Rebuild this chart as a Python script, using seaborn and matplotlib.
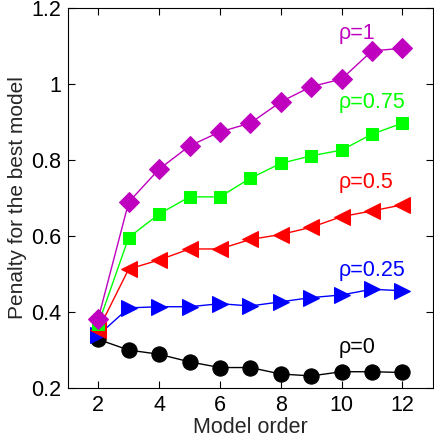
import matplotlib
matplotlib.use("Agg")
import matplotlib.pyplot as plt
import seaborn as sns
import pandas as pd

model_order = [2, 3, 4, 5, 6, 7, 8, 9, 10, 11, 12]
rho_0 = [0.328, 0.300, 0.289, 0.269, 0.254, 0.254, 0.237, 0.232, 0.243, 0.243, 0.241]
rho_025 = [0.339, 0.411, 0.414, 0.414, 0.422, 0.416, 0.427, 0.438, 0.445, 0.460, 0.456]
rho_05 = [0.353, 0.513, 0.537, 0.566, 0.566, 0.591, 0.604, 0.623, 0.651, 0.666, 0.682]
rho_075 = [0.368, 0.596, 0.658, 0.703, 0.703, 0.752, 0.791, 0.811, 0.826, 0.868, 0.897]
rho_1 = [0.383, 0.689, 0.776, 0.837, 0.874, 0.897, 0.953, 0.993, 1.013, 1.087, 1.094]

labels = ["ρ=0", "ρ=0.25", "ρ=0.5", "ρ=0.75", "ρ=1"]
label_y = [0.308, 0.51, 0.74, 0.95, 1.134]
xticks = [2, 4, 6, 8, 10, 12]
yticks = [0.2, 0.4, 0.6, 0.8, 1.0, 1.2]
ytick_labels = ["0.2", "0.4", "0.6", "0.8", "1", "1.2"]

series = [rho_0, rho_025, rho_05, rho_075, rho_1]
colors = ["#000000", "#0000FF", "#FF0000", "#00FF00", "#BF00BF"]
markers = ["o", ">", "<", "s", "D"]
msizes = [11, 11, 11, 9, 10]

sns.set_theme(style="white")
plt.rcParams["font.family"] = ["Liberation Sans", "DejaVu Sans"]

fig = plt.figure(figsize=(4.35, 4.42), dpi=100)
ax = fig.add_axes([0.156, 0.122, 0.839, 0.860])

for lab, vals, c, m, ms in zip(labels, series, colors, markers, msizes):
    df = pd.DataFrame({"x": model_order, "y": vals})
    sns.lineplot(data=df, x="x", y="y", ax=ax, color=c, marker=m,
                 markersize=ms, markeredgecolor=c, linewidth=1.0)

for lab, yy, c in zip(labels, label_y, colors):
    ax.text(9.9, yy, lab, color=c, fontsize=15.5, ha="left", va="center")

ax.set_xlim(1, 13)
ax.set_ylim(0.2, 1.2)
ax.set_xticks(xticks)
ax.set_xticklabels([str(t) for t in xticks])
ax.set_yticks(yticks)
ax.set_yticklabels(ytick_labels)
ax.set_xlabel("Model order", fontsize=15.5, labelpad=1)
ax.set_ylabel("Penalty for the best model", fontsize=15, labelpad=3)
ax.tick_params(axis="both", which="both", direction="in", length=5, width=0.8,
               labelsize=15.5, top=True, right=True, bottom=True, left=True,
               colors="black", pad=5)
for s in ax.spines.values():
    s.set_color("black")
    s.set_linewidth(0.8)

fig.savefig("out.png", dpi=100)
